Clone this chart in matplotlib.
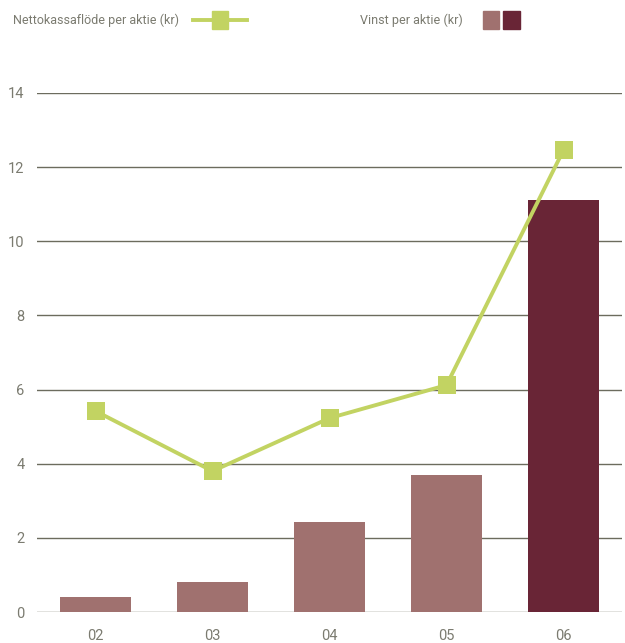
import matplotlib.pyplot as plt
from matplotlib.patches import Rectangle
from matplotlib.lines import Line2D

years = ['02', '03', '04', '05', '06']
vinst = [0.40, 0.81, 2.43, 3.70, 11.11]
kassaflode = [5.42, 3.80, 5.23, 6.12, 12.46]
bar_colors = ['#a0716f', '#a0716f', '#a0716f', '#a0716f', '#692536']

line_col = '#c2d362'
grid_col = '#6c6c5e'
text_col = '#7b7b70'

plt.rcParams['font.family'] = ['Roboto', 'DejaVu Sans']

fig = plt.figure(figsize=(6.25, 6.43), dpi=100)
ax = fig.add_axes([37/625, 1-612/643, 585/625, 519/643])

x = list(range(len(years)))
ax.bar(x, vinst, width=0.61, color=bar_colors, zorder=2)
ax.plot(x, kassaflode, color=line_col, lw=2.8, marker='s', ms=13.5,
        markeredgewidth=0, zorder=3)

ax.set_xlim(-0.5, 4.5)
ax.set_ylim(0, 14)
ax.set_yticks(range(0, 15, 2))
for v in range(0, 15, 2):
    ax.axhline(v, color=grid_col, lw=1.0, zorder=1)
ax.set_xticks(x)
ax.set_xticklabels(years)
ax.tick_params(length=0, colors=text_col, labelsize=10.5)
ax.tick_params(axis='y', pad=9)
ax.tick_params(axis='x', pad=12)
for s in ax.spines.values():
    s.set_visible(False)

# legend at the top
fig.text(13/625, 1-20/643, 'Nettokassaflöde per aktie (kr)', color=text_col,
         fontsize=9.0, va='center', ha='left')
fig.add_artist(Line2D([193/625, 247/625], [1-20/643, 1-20/643], color=line_col,
                      lw=2.8, transform=fig.transFigure))
fig.add_artist(Rectangle((212/625, 1-29/643), 16/625, 18/643, color=line_col,
                         transform=fig.transFigure))
fig.text(463/625, 1-20/643, 'Vinst per aktie (kr)', color=text_col,
         fontsize=9.0, va='center', ha='right')
fig.add_artist(Rectangle((483/625, 1-29/643), 16/625, 18/643, color=bar_colors[0],
                         transform=fig.transFigure))
fig.add_artist(Rectangle((503/625, 1-29/643), 17/625, 18/643, color=bar_colors[4],
                         transform=fig.transFigure))

fig.savefig('out.png', dpi=100)
